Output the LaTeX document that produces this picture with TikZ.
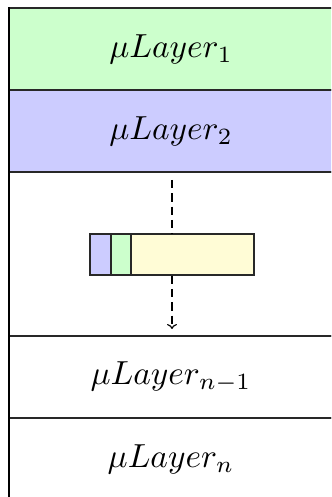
\documentclass[tikz,border=0pt]{standalone}
\usetikzlibrary{arrows.meta}
\definecolor{lgreen}{RGB}{204,255,204}
\definecolor{lblue}{RGB}{204,204,255}
\definecolor{lyellow}{RGB}{255,252,214}
\definecolor{edge}{RGB}{40,40,40}
\begin{document}
\begin{tikzpicture}[x=0.3pt,y=-0.3pt,
  layer/.style={draw=edge, line width=0.35pt, minimum width=110pt, minimum height=24.6pt, inner sep=0pt, anchor=west},
  seg/.style={draw=edge, line width=0.35pt, minimum height=12.3pt, inner sep=0pt},
  flow/.style={dash pattern=on 2.5pt off 1.5pt, line width=0.35pt}]
\useasboundingbox (0,0) rectangle (331,497);
\clip (0,0) rectangle (331,497);
\node[layer, minimum height=49.2pt] (mid) at (9,254) {};
\node[layer, fill=lgreen] (l1) at (9,49) {};
\node[layer, fill=lblue] (l2) at (9,131) {};
\node[layer] (ln1) at (9,377) {};
\node[layer] (ln) at (9,459) {};
\node (t1) at (171,49) {$\mu Layer_1$};
\node (t2) at (171,131) {$\mu Layer_2$};
\node (tn1) at (171,377) {$\mu Layer_{n-1}$};
\node (tn) at (171,459) {$\mu Layer_n$};
\node[seg, fill=lblue, minimum width=6.3pt] (b1) at (100.5,254.5) {};
\node[seg, fill=lgreen, minimum width=6pt] (b2) at (121,254.5) {};
\node[seg, fill=lyellow, minimum width=36.9pt] (b3) at (192.5,254.5) {};
\coordinate (t) at (172,180);
\coordinate (e) at (172,329);
\draw[flow] (t) -- (t |- b3.north);
\draw[flow, -{To[length=1.5pt,width=3pt]}] (e |- b3.south) -- (e);
\draw[line width=0.8pt] (l1.north west) -- (ln.south west);
\end{tikzpicture}
\end{document}
